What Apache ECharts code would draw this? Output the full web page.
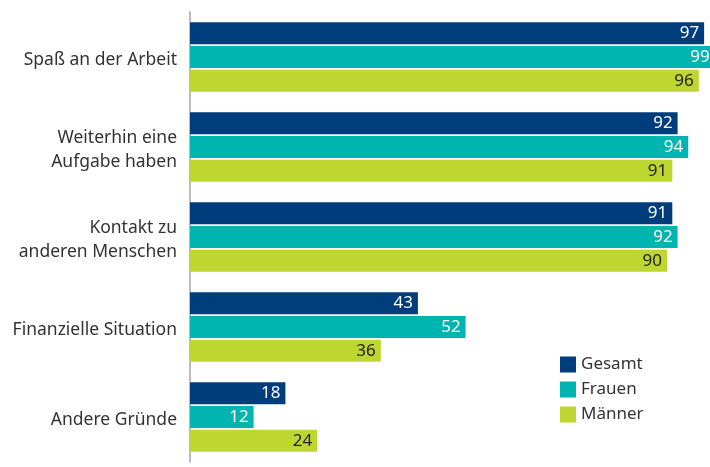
<!DOCTYPE html>
<html>
<head>
<meta charset="utf-8">
<script src="https://cdn.jsdelivr.net/npm/echarts@6/dist/echarts.min.js"></script>
<style>
  html, body { margin: 0; padding: 0; background: #fff; }
  #chart { width: 710px; height: 467px; }
</style>
</head>
<body>
<div id="chart"></div>
<script>
// Gründe für Erwerbstätigkeit im Ruhestand (%)
var categories = ['Spaß an der Arbeit', 'Weiterhin eine\nAufgabe haben', 'Kontakt zu\nanderen Menschen', 'Finanzielle Situation', 'Andere Gründe'];
var gesamt = [97, 92, 91, 43, 18];
var frauen = [99, 94, 92, 52, 12];
var maenner = [96, 91, 90, 36, 24];

var fontName = '"Noto Sans", sans-serif';

function makeSeries(name, data, color, labelColor) {
    return {
        name: name,
        type: 'bar',
        data: data,
        barWidth: 22,
        barGap: '8%',
        itemStyle: { color: color },
        label: {
            show: true,
            position: 'insideRight',
            distance: 5,
            color: labelColor,
            fontSize: 17,
            fontFamily: fontName
        }
    };
}

var chart = echarts.init(document.getElementById('chart'));
var option = {
    animation: false,
    textStyle: { fontFamily: fontName },
    grid: {
        left: 190,
        top: 12,
        width: 530,
        height: 450,
        outerBoundsMode: 'none'
    },
    legend: {
        orient: 'vertical',
        left: 555,
        top: 351,
        itemWidth: 16,
        itemHeight: 16,
        itemGap: 8,
        icon: 'rect',
        textStyle: { fontSize: 17, color: '#333', fontFamily: fontName },
        data: ['Gesamt', 'Frauen', 'Männer']
    },
    xAxis: {
        type: 'value',
        min: 0,
        max: 100,
        show: false
    },
    yAxis: {
        type: 'category',
        data: categories,
        inverse: true,
        axisTick: { show: false },
        axisLine: { lineStyle: { color: '#bbbbbb', width: 2 } },
        axisLabel: {
            margin: 13,
            align: 'right',
            // push the text a few px below the band centre, like the original
            formatter: function (v) {
                return v.split('\n').map(function (s) { return '{t|' + s + '}'; }).join('\n');
            },
            rich: {
                t: {
                    fontSize: 17.5,
                    lineHeight: 24,
                    padding: [6, 0, 0, 0],
                    color: '#333',
                    fontFamily: fontName
                }
            }
        }
    },
    series: [
        makeSeries('Gesamt', gesamt, '#003d7c', '#ffffff'),
        makeSeries('Frauen', frauen, '#00b5b0', '#ffffff'),
        makeSeries('Männer', maenner, '#bdd630', '#222222')
    ]
};
chart.setOption(option);
</script>
</body>
</html>
